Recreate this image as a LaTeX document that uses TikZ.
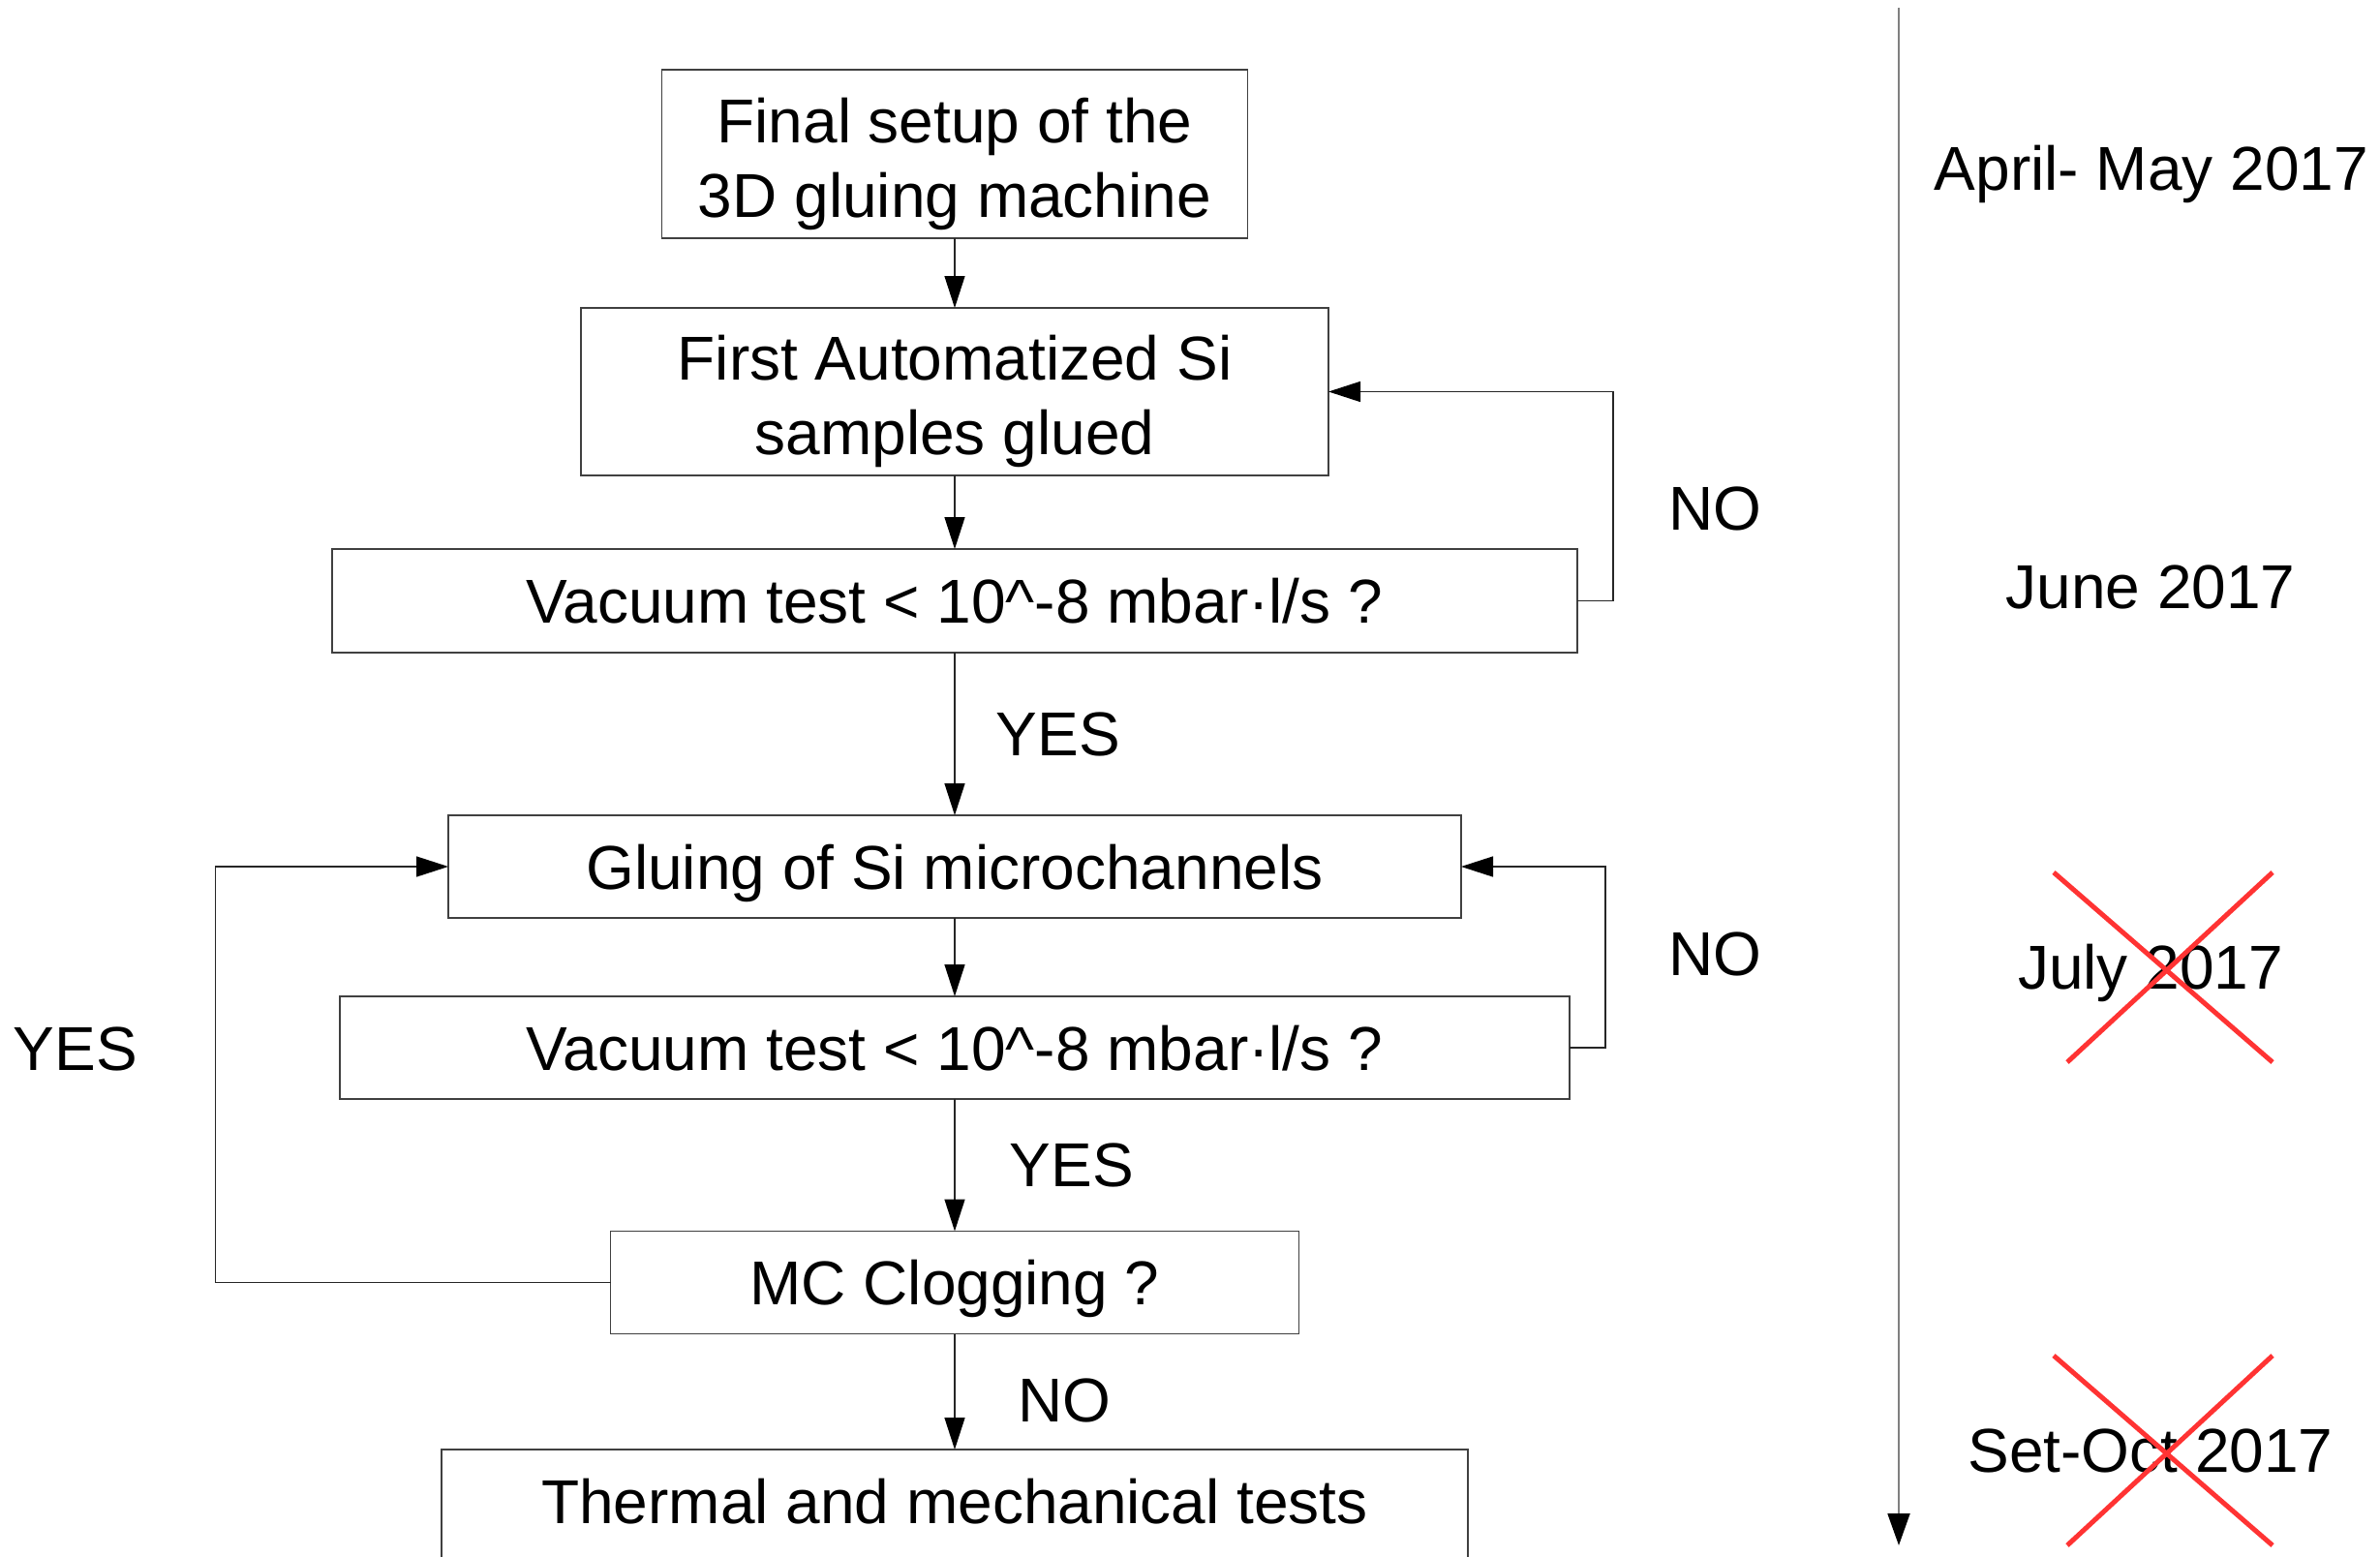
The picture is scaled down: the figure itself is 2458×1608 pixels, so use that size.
\documentclass[tikz,border=0pt]{standalone}
\usepackage{fontspec}
\setmainfont{Liberation Sans}
\usetikzlibrary{arrows.meta}
\definecolor{crossred}{RGB}{255,51,51}
\begin{document}
\begin{tikzpicture}[x=1pt,y=-1pt,
  every node/.style={font=\fontsize{64}{77}\selectfont},
  boxbase/.style={draw=black!75, line width=1.5pt, inner sep=0pt, outer sep=0pt, align=center},
  box/.style={boxbase, text height=46pt, text depth=0pt},
  arr/.style={draw=black!85, line width=1.5pt, -{Triangle[length=33pt,width=21pt,color=black]}},
  lbl/.style={anchor=base, inner sep=0pt},
  tline/.style={draw=black!50, line width=2pt, -{Triangle[length=33pt,width=23pt,color=black]}},
  cross/.style={draw=crossred, line width=5pt}
]
\useasboundingbox (0,0) rectangle (2458,1608);
\clip (0,0) rectangle (2458,1608);

% boxes
\node[boxbase, minimum width=605pt, minimum height=174pt] (b1) at (986,159) {\rule{0pt}{67pt}Final setup of the\\3D gluing machine};
\node[boxbase, minimum width=772pt, minimum height=173pt] (b2) at (986,404.5) {\rule{0pt}{67pt}First Automatized Si\\samples glued};
\node[box, minimum width=1286pt, minimum height=107pt] (b3) at (986,620.5) {Vacuum test < 10\^{}-8 mbar·l/s ?};
\node[box, minimum width=1046pt, minimum height=106pt] (b4) at (986,895) {Gluing of Si microchannels};
\node[box, minimum width=1270pt, minimum height=106pt] (b5) at (986,1082) {Vacuum test < 10\^{}-8 mbar·l/s ?};
\node[box, minimum width=711pt, minimum height=106pt] (b6) at (986,1324.5) {MC Clogging ?};
\node[box, minimum width=1060pt, anchor=north, text height=76pt, text depth=150pt] (b7) at (986,1497) {Thermal and mechanical tests};

% connectors
\draw[arr] (b1.south) -- (b2.north);
\draw[arr] (b2.south) -- (b3.north);
\draw[arr] (b3.south) -- (b4.north);
\draw[arr] (b4.south) -- (b5.north);
\draw[arr] (b5.south) -- (b6.north);
\draw[arr] (b6.south) -- (b7.north);
\draw[arr] (b3.east) -- ++(37,0) |- (b2.east);
\draw[arr] (b5.east) -- ++(37,0) |- (b4.east);
\draw[arr] (b6.west) -- ++(-408,0) |- (b4.west);

% branch labels
\node[lbl] (no1) at (1771,547) {NO};
\node[lbl] (no2) at (1771,1007) {NO};
\node[lbl] (yes1) at (1093,780) {YES};
\node[lbl] (yes2) at (1107,1225) {YES};
\node[lbl] (yes3) at (78,1105) {YES};
\node[lbl] (no3) at (1099,1468) {NO};

% timeline
\coordinate (tltop) at (1961,8);
\coordinate (tlbot) at (1961,1596);
\draw[tline] (tltop) -- (tlbot);

\node[lbl] (t1) at (2222,197) {April- May 2017};
\node[lbl] (t2) at (2221,628) {June 2017};
\node[lbl] (t3) at (2221,1021) {July 2017};
\node[lbl] (t4) at (2221,1520) {Set-Oct 2017};

% red crosses
\draw[cross] (2121,901) -- (2347,1097);
\draw[cross] (2347,901) -- (2135,1097);
\draw[cross] (2121,1400) -- (2347,1596);
\draw[cross] (2347,1400) -- (2135,1596);
\end{tikzpicture}
\end{document}
